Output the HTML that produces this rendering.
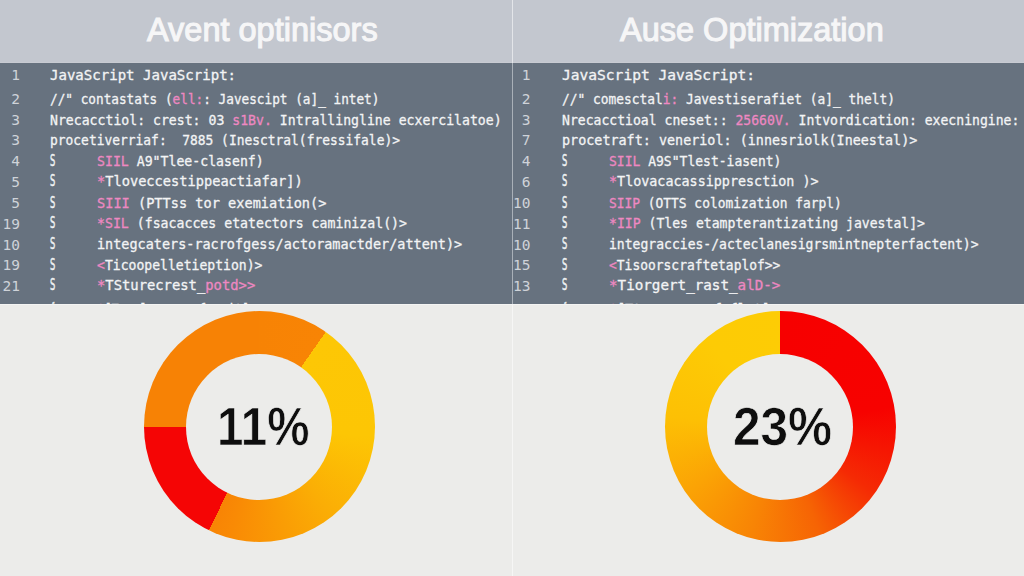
<!DOCTYPE html>
<html><head><meta charset="utf-8">
<style>
*{margin:0;padding:0;box-sizing:border-box}
html,body{width:1024px;height:576px;overflow:hidden;background:#ececea}
body{position:relative;font-family:"Liberation Sans",sans-serif}
.hdr{position:absolute;top:0;height:63px;background:#c3c7cf;border-bottom:1px solid #c8cbd2}
.hdr h1{position:absolute;top:-1px;font-weight:normal;color:#f6f6f7;font-size:32.5px;line-height:62px;white-space:nowrap;-webkit-text-stroke:1.1px #f6f6f7}
.code{position:absolute;top:63px;height:241px;background:#67727f;overflow:hidden}
.bot{position:absolute;top:304px;height:272px;background:#ececea;border-top:1px solid #f4f4f3}
.L{left:0;width:512px}.R{left:513px;width:511px}
.div{position:absolute;left:512px;width:1px}
.ln{position:absolute;font-family:"DejaVu Sans Mono",monospace;font-size:14.5px;color:#f3f4f5;white-space:pre;line-height:16px;transform-origin:0 0;-webkit-text-stroke:0.3px}
.ln.d{font-family:"DejaVu Sans",sans-serif;font-size:15px;-webkit-text-stroke:0.5px;color:#f0f2f4;transform:scaleX(0.55)}
.num{position:absolute;width:20px;text-align:right;font-family:"DejaVu Sans Mono",monospace;font-size:14.5px;color:#cfd3d9;line-height:16px}
.p{color:#ee88c2}
.donut{position:absolute;border-radius:50%}
.hole{position:absolute;border-radius:50%;background:#ececea}
.pct{position:absolute;font-family:"Liberation Sans",sans-serif;font-weight:bold;color:#0e0e0e;font-size:54px;line-height:60px;white-space:nowrap;transform-origin:0 0;-webkit-text-stroke:0.7px #ececea}
</style></head><body>
<div class="hdr L"><h1 style="left:147px">Avent optinisors</h1></div>
<div class="hdr R"><h1 style="left:107px">Ause Optimization</h1></div>
<div class="code L"></div>
<div class="code R"></div>
<div class="bot L"></div>
<div class="bot R"></div>
<div class="div" style="top:0;height:63px;background:#e3e5e9"></div>
<div class="div" style="top:63px;height:241px;background:#a9b0b8"></div>
<div class="div" style="top:304px;height:272px;background:#f6f6f5"></div>

<div id="codeL" style="position:absolute;left:0;top:0;width:1024px;height:304px;overflow:hidden"><div class="num" style="left:0px;top:67.3px">1</div>
<div class="ln t" style="left:50px;top:67.1px;transform:scaleX(0.9689)">JavaScript JavaScript:</div>
<div class="num" style="left:0px;top:91.4px">2</div>
<div class="ln t" style="left:50px;top:91.2px;transform:scaleX(0.8776)">//" contastats (<span class="p">ell:</span>: Javescipt (a]_ intet)</div>
<div class="num" style="left:0px;top:111.8px">3</div>
<div class="ln t" style="left:50px;top:111.6px;transform:scaleX(0.9076)">Nrecacctiol: crest: 03 <span class="p">s1Bv.</span> Intrallingline ecxercilatoe)</div>
<div class="num" style="left:0px;top:132.0px">3</div>
<div class="ln t" style="left:50px;top:131.8px;transform:scaleX(0.8909)">procetiverriaf:  7885 (Inesctral(fressifale)&gt;</div>
<div class="num" style="left:0px;top:153.0px">4</div>
<div class="ln d" style="left:50px;top:152.8px">S</div>
<div class="ln t" style="left:97.4px;top:152.8px;transform:scaleX(0.9094)"><span class="p">SIIL</span> A9"Tlee-clasenf)</div>
<div class="num" style="left:0px;top:173.5px">5</div>
<div class="ln d" style="left:50px;top:173.3px">S</div>
<div class="ln t" style="left:97.4px;top:173.3px;transform:scaleX(0.9423)"><span class="p">*</span>Tloveccestippeactiafar])</div>
<div class="num" style="left:0px;top:195.0px">5</div>
<div class="ln d" style="left:50px;top:194.8px">S</div>
<div class="ln t" style="left:97.4px;top:194.8px;transform:scaleX(0.9385)"><span class="p">SIII</span> (PTTss tor exemiation(&gt;</div>
<div class="num" style="left:0px;top:215.6px">19</div>
<div class="ln d" style="left:50px;top:215.4px">S</div>
<div class="ln t" style="left:97.4px;top:215.4px;transform:scaleX(0.9105)"><span class="p">*SIL</span> (fsacacces etatectors caminizal()&gt;</div>
<div class="num" style="left:0px;top:236.5px">10</div>
<div class="ln d" style="left:50px;top:236.3px">S</div>
<div class="ln t" style="left:97.4px;top:236.3px;transform:scaleX(0.9297)">integcaters-racrofgess/actoramactder/attent)&gt;</div>
<div class="num" style="left:0px;top:257.0px">19</div>
<div class="ln d" style="left:50px;top:256.8px">S</div>
<div class="ln t" style="left:97.4px;top:256.8px;transform:scaleX(0.9022)"><span class="p">&lt;</span>Ticoopelletieption)&gt;</div>
<div class="num" style="left:0px;top:277.5px">21</div>
<div class="ln d" style="left:50px;top:277.3px">S</div>
<div class="ln t" style="left:97.4px;top:277.3px;transform:scaleX(0.9538)"><span class="p">*</span>TSturecrest_<span class="p">potd&gt;&gt;</span></div>
<div class="ln d" style="left:50px;top:300.8px">{</div>
<div class="ln t" style="left:97.4px;top:300.8px;transform:scaleX(0.8324)"><span class="p">*</span>[Tcsuler_acrofgesit]</div>
<div class="num" style="left:510.5px;top:67.3px">1</div>
<div class="ln t" style="left:561.5px;top:67.1px;transform:scaleX(1.0047)">JavaScript JavaScript:</div>
<div class="num" style="left:510.5px;top:91.4px">2</div>
<div class="ln t" style="left:561.5px;top:91.2px;transform:scaleX(0.8868)">//" comesctal<span class="p">i:</span> Javestiserafiet (a]_ thelt)</div>
<div class="num" style="left:510.5px;top:111.8px">3</div>
<div class="ln t" style="left:561.5px;top:111.6px;transform:scaleX(0.9032)">Nrecacctioal cneset:: <span class="p">25660V.</span> Intvordication: execninginе:</div>
<div class="num" style="left:510.5px;top:132.0px">7</div>
<div class="ln t" style="left:561.5px;top:131.8px;transform:scaleX(0.9250)">procetraft: veneriol: (innesriolk(Ineestal)&gt;</div>
<div class="num" style="left:510.5px;top:153.0px">4</div>
<div class="ln d" style="left:561.5px;top:152.8px">S</div>
<div class="ln t" style="left:609px;top:152.8px;transform:scaleX(0.8979)"><span class="p">SIIL</span> A9S"Tlest-iasent)</div>
<div class="num" style="left:510.5px;top:173.5px">6</div>
<div class="ln d" style="left:561.5px;top:173.3px">S</div>
<div class="ln t" style="left:609px;top:173.3px;transform:scaleX(0.9234)"><span class="p">*</span>Tlovacacassippresction )&gt;</div>
<div class="num" style="left:510.5px;top:195.0px">10</div>
<div class="ln d" style="left:561.5px;top:194.8px">S</div>
<div class="ln t" style="left:609px;top:194.8px;transform:scaleX(0.8890)"><span class="p">SIIP</span> (OTTS colomization farpl)</div>
<div class="num" style="left:510.5px;top:215.6px">11</div>
<div class="ln d" style="left:561.5px;top:215.4px">S</div>
<div class="ln t" style="left:609px;top:215.4px;transform:scaleX(0.9050)"><span class="p">*IIP</span> (Tles etampterantizating javestal]&gt;</div>
<div class="num" style="left:510.5px;top:236.5px">10</div>
<div class="ln d" style="left:561.5px;top:236.3px">S</div>
<div class="ln t" style="left:609px;top:236.3px;transform:scaleX(0.9008)">integraccies-/acteclanesigrsmintnepterfactent)&gt;</div>
<div class="num" style="left:510.5px;top:257.0px">15</div>
<div class="ln d" style="left:561.5px;top:256.8px">S</div>
<div class="ln t" style="left:609px;top:256.8px;transform:scaleX(0.8925)"><span class="p">&lt;</span>Tisoorscraftetaplof&gt;&gt;</div>
<div class="num" style="left:510.5px;top:277.5px">13</div>
<div class="ln d" style="left:561.5px;top:277.3px">S</div>
<div class="ln t" style="left:609px;top:277.3px;transform:scaleX(0.9817)"><span class="p">*</span>Tiorgert_rast_<span class="p">alD-&gt;</span></div>
<div class="ln d" style="left:561.5px;top:300.8px">{</div>
<div class="ln t" style="left:609px;top:300.8px;transform:scaleX(0.9221)"><span class="p">*</span>[Ttc_sorscraf_flet]</div></div>
<div id="codeR"></div>

<div class="donut" style="left:144px;top:311px;width:231px;height:231px;background:conic-gradient(from 0deg,#f78305 0deg,#f88405 35deg,#fdc705 35deg,#fdc604 95deg,#fbae05 140deg,#f98a05 195deg,#f88405 206deg,#f50505 206deg,#f50505 270deg,#f78205 270deg)"></div>
<div class="hole" style="left:186px;top:354px;width:146px;height:146px"></div>
<div class="pct" style="left:216.5px;top:395.5px;transform:scaleX(0.88)">11%</div>

<div class="donut" style="left:665px;top:311px;width:231px;height:231px;background:conic-gradient(from 0deg,#f70000 0deg,#f70200 80deg,#f52a04 125deg,#f66404 160deg,#f88405 195deg,#fba305 235deg,#fdc004 275deg,#fdcb05 320deg,#fdcc05 360deg)"></div>
<div class="hole" style="left:707px;top:354px;width:146px;height:146px"></div>
<div class="pct" style="left:732.5px;top:395.5px;transform:scaleX(0.917)">23%</div>
</body></html>
